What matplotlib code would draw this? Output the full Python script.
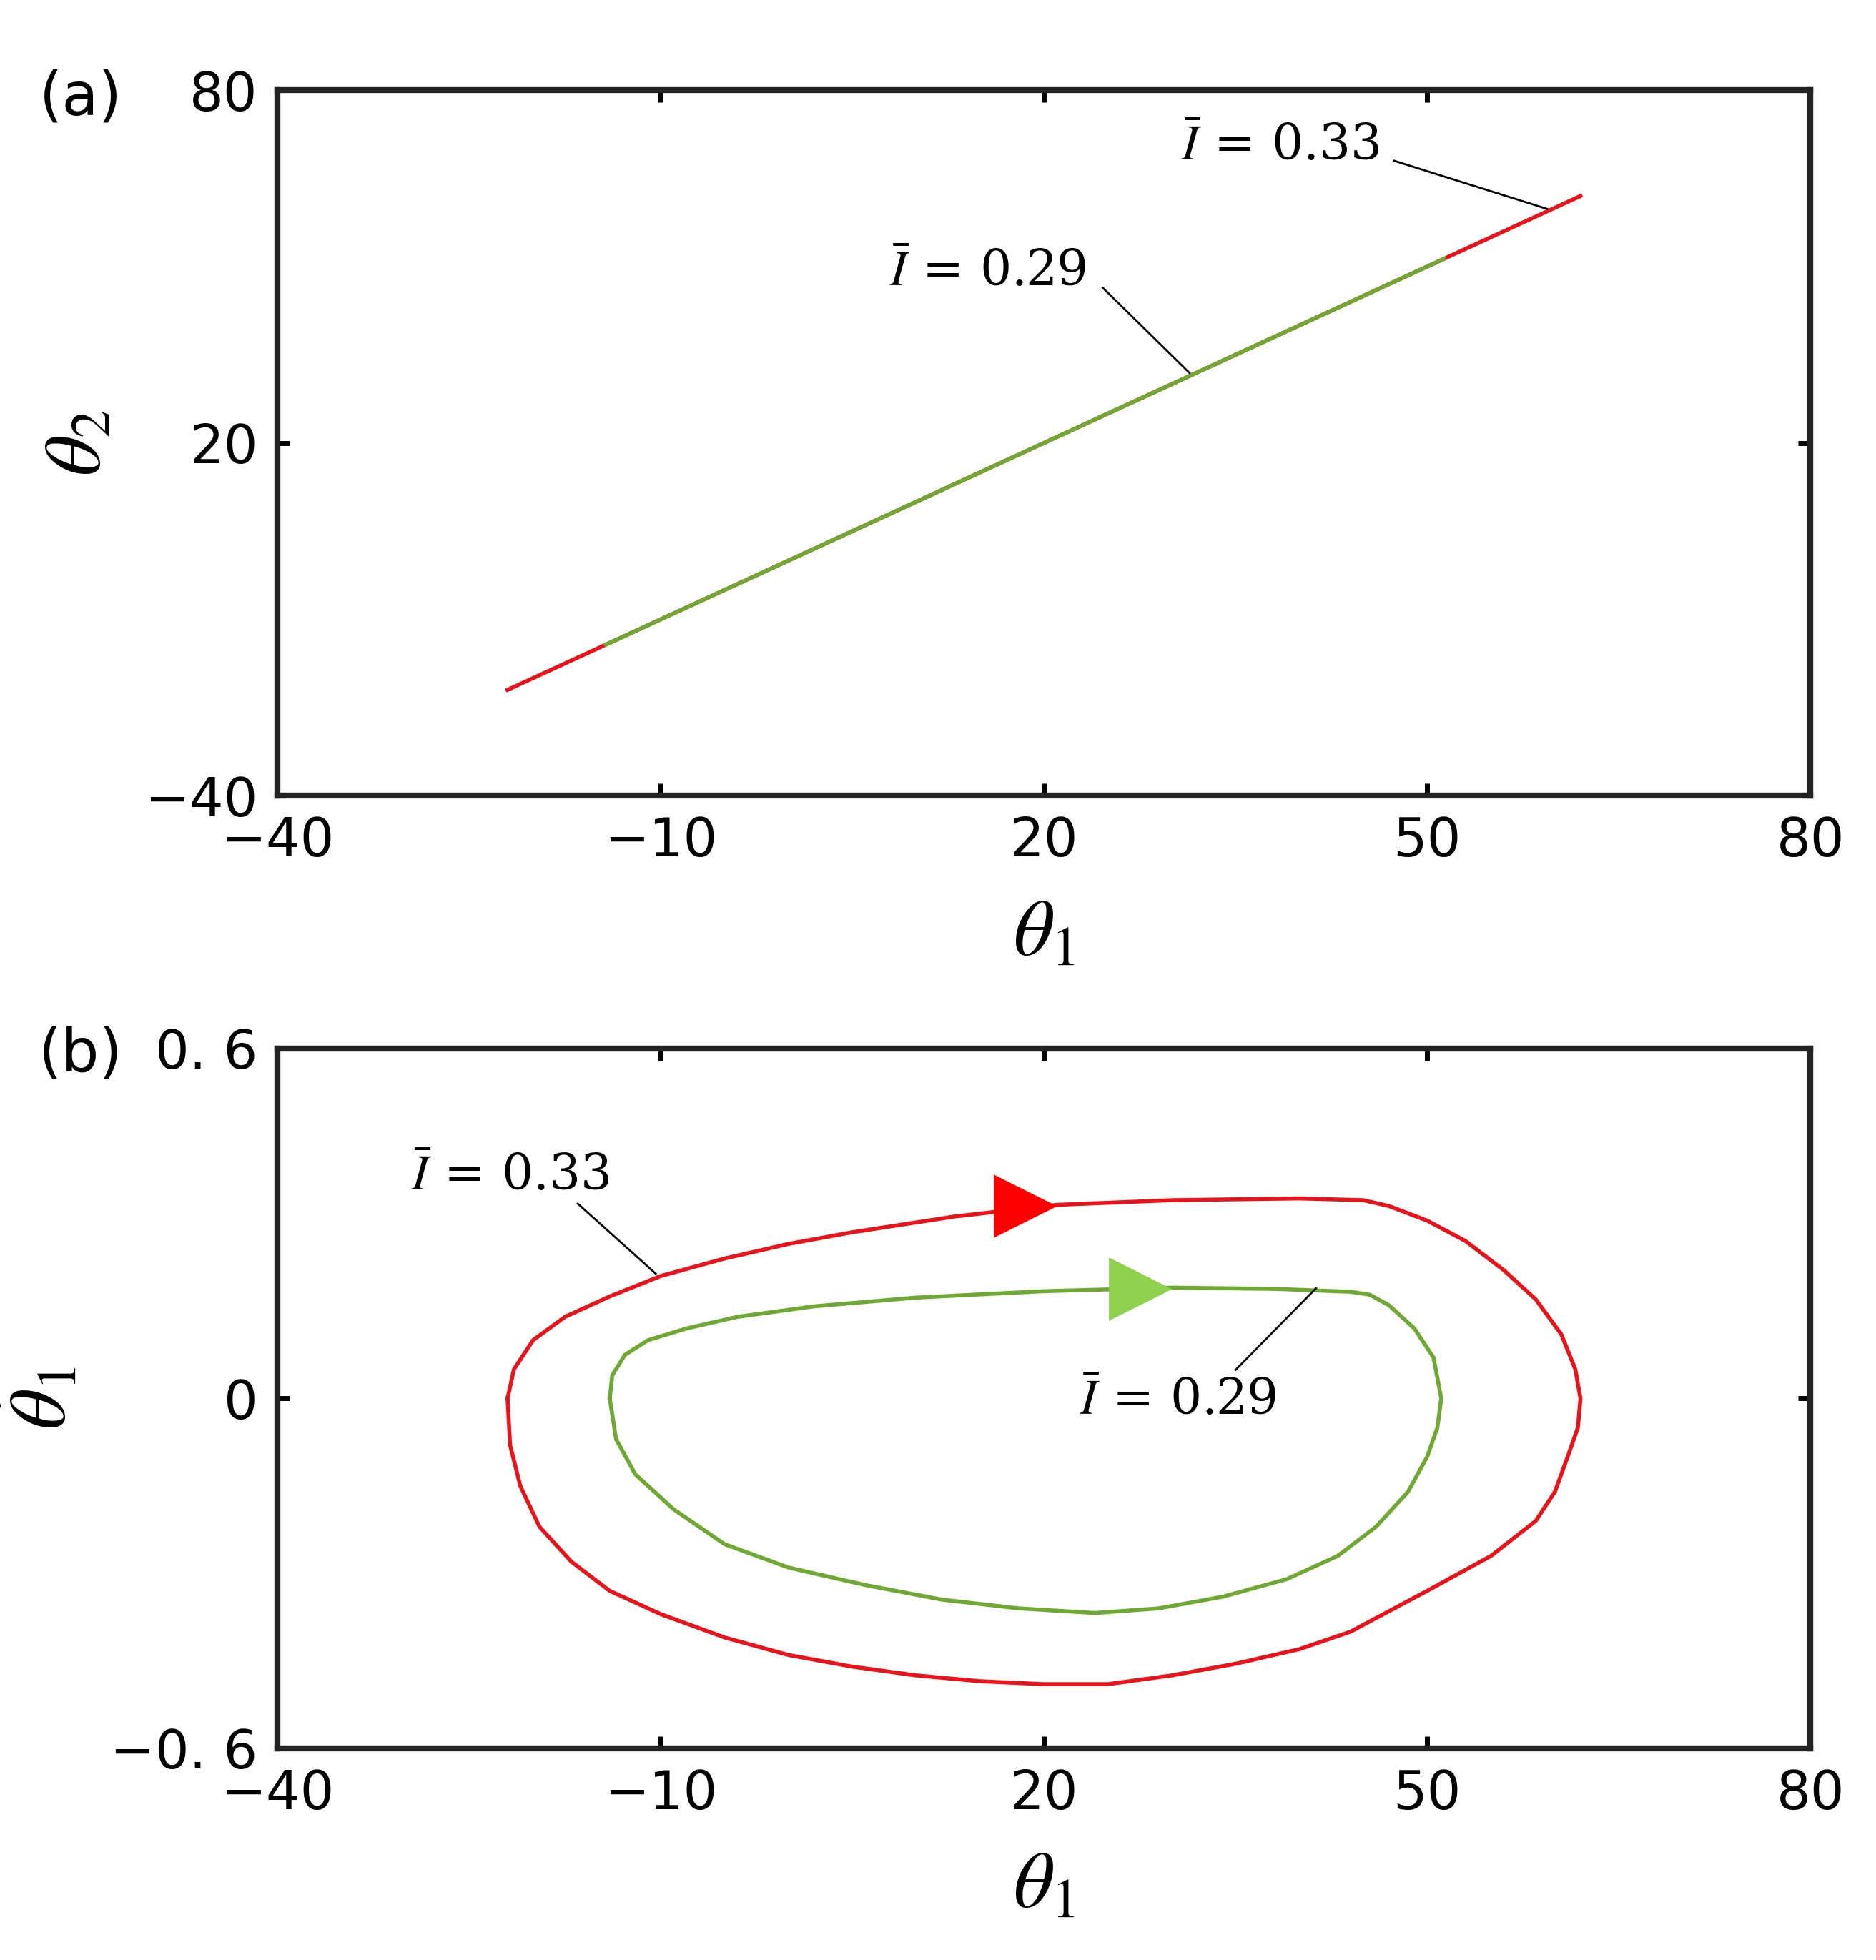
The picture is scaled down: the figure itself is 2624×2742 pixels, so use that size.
import numpy as np
import matplotlib.pyplot as plt

plt.rcParams['font.family'] = ['DejaVu Sans']
plt.rcParams['mathtext.fontset'] = 'stix'

# panel (a): theta2 vs theta1 (straight segments)
a_red_x = [-22, 62]
a_red_y = [-22, 62]
a_green_x = [-14.3, 51.3]
a_green_y = [-14.3, 51.3]

# panel (b): phase loops theta1_dot vs theta1
red_x = [-22, -21.5, -20, -17.5, -14, -10, -5, 0, 5, 13, 21, 30, 40, 45, 47, 50, 53, 56, 58.5, 60.5, 61.6, 62,
         61.8, 61, 60, 58.5, 55, 50, 44, 40, 35, 30, 25, 20, 15, 10, 5, 0, -5, -10, -14, -17, -19.5, -21, -21.8, -22]
red_y = [0, 0.05, 0.1, 0.14, 0.175, 0.21, 0.24, 0.265, 0.285, 0.312, 0.332, 0.34, 0.343, 0.34, 0.33, 0.305, 0.27, 0.22, 0.17, 0.11, 0.05, 0.0,
         -0.05, -0.1, -0.16, -0.21, -0.27, -0.33, -0.40, -0.43, -0.455, -0.475, -0.49, -0.49, -0.485, -0.475, -0.46, -0.44, -0.41, -0.37, -0.33, -0.28, -0.22, -0.15, -0.08, 0]
green_x = [-14, -13.8, -12.8, -11, -8, -4, 2, 10, 20, 30, 38, 44, 45.5, 47, 49, 50.5, 51.1,
           50.8, 50, 48.5, 46, 43, 39, 34, 29, 24, 18, 12, 6, 0, -5, -9, -12, -13.5, -14]
green_y = [0, 0.04, 0.075, 0.1, 0.12, 0.14, 0.158, 0.173, 0.184, 0.19, 0.188, 0.183, 0.178, 0.16, 0.12, 0.07, 0.0,
           -0.05, -0.1, -0.16, -0.22, -0.27, -0.31, -0.34, -0.36, -0.368, -0.36, -0.345, -0.32, -0.29, -0.25, -0.19, -0.13, -0.07, 0]

RED = '#e8131b'
GREEN = '#6fa832'
ARROW_GREEN = '#8fd14f'

fig = plt.figure(figsize=(13.12, 13.71), dpi=200)
ax1 = fig.add_axes([0.148, 0.594, 0.817, 0.360])
ax2 = fig.add_axes([0.148, 0.108, 0.817, 0.357])

for ax in (ax1, ax2):
    ax.set_xlim(-40, 80)
    ax.set_xticks([-40, -10, 20, 50, 80])
    ax.set_xticklabels(['\u221240', '\u221210', '20', '50', '80'])
    ax.tick_params(direction='in', top=True, right=True, labelsize=27, width=2.5, length=6, pad=10)
    for s in ax.spines.values():
        s.set_linewidth(3)
        s.set_color('#222222')
    ax.set_xlabel(r'$\theta_1$', fontsize=40, labelpad=14)

# (a)
ax1.plot(a_red_x, a_red_y, color=RED, lw=2)
ax1.plot(a_green_x, a_green_y, color=GREEN, lw=2)
ax1.set_ylim(-40, 80)
ax1.set_yticks([-40, 20, 80])
ax1.set_yticklabels(['\u221240', '20', '80'])
ax1.set_ylabel(r'$\theta_2$', fontsize=40, labelpad=14)
ax1.text(38.5, 70.4, r'$\bar{I}$ = 0.33', fontsize=25, family='serif', ha='center', va='center')
ax1.plot([47.4, 59.4], [68, 59.8], color='black', lw=1)
ax1.text(15.6, 49, r'$\bar{I}$ = 0.29', fontsize=25, family='serif', ha='center', va='center')
ax1.plot([24.6, 31.4], [46.4, 31.9], color='black', lw=1)

# (b)
ax2.plot(red_x, red_y, color=RED, lw=2)
ax2.plot(green_x, green_y, color=GREEN, lw=2)
ax2.plot([18.5], [0.33], marker='>', markersize=30, color='red', mec='red')
ax2.plot([27.5], [0.188], marker='>', markersize=30, color=ARROW_GREEN, mec=ARROW_GREEN)
ax2.set_ylim(-0.6, 0.6)
ax2.set_yticks([-0.6, 0, 0.6])
ax2.set_yticklabels(['\u22120. 6', '0', '0. 6'])
ax2.set_ylabel(r'$\dot{\theta}_1$', fontsize=40, labelpad=14)
ax2.text(-21.8, 0.381, r'$\bar{I}$ = 0.33', fontsize=25, family='serif', ha='center', va='center')
ax2.plot([-16.5, -10.4], [0.334, 0.214], color='black', lw=1)
ax2.text(30.5, -0.004, r'$\bar{I}$ = 0.29', fontsize=25, family='serif', ha='center', va='center')
ax2.plot([35, 41.3], [0.049, 0.189], color='black', lw=1)

fig.text(0.043, 0.95, '(a)', fontsize=30, ha='center', va='center')
fig.text(0.043, 0.462, '(b)', fontsize=30, ha='center', va='center')

fig.savefig('out.png', dpi=200)
